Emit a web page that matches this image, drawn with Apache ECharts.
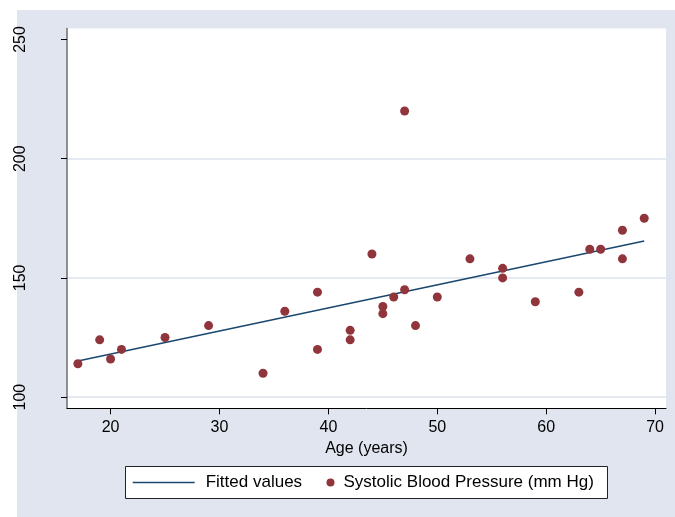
<!DOCTYPE html>
<html lang="en">
<head>
    <meta charset="UTF-8">
    <title>Systolic Blood Pressure by Age</title>
    <style>
        body { margin: 0; overflow: hidden; background: #fff; }
        #chart { width: 675px; height: 517px; }
    </style>
</head>
<body>
    <div id="chart"></div>
    <script src="https://cdn.jsdelivr.net/npm/echarts@6/dist/echarts.min.js"></script>
    <script>
        // data
        var ages = [17, 19, 20, 21, 25, 29, 34, 36, 39, 39, 42, 42, 44, 45, 45,
                    46, 47, 47, 48, 50, 53, 56, 56, 59, 63, 64, 65, 67, 67, 69];
        var sbp = [114, 124, 116, 120, 125, 130, 110, 136, 144, 120, 128, 124, 160, 138, 135,
                   142, 145, 220, 130, 142, 158, 154, 150, 140, 144, 162, 162, 170, 158, 175];
        // fitted line end points
        var fitted = [[17, 115.1], [69, 165.5]];
        var xTicks = [20, 30, 40, 50, 60, 70];
        var yTicks = [100, 150, 200, 250];
        var seriesNames = ['Fitted values', 'Systolic Blood Pressure (mm Hg)'];

        var font = '"Liberation Sans", Arial, sans-serif';
        var points = ages.map(function (a, i) { return [a, sbp[i]]; });

        var myChart = echarts.init(document.getElementById('chart'));
        var option = {
            backgroundColor: '#fff',
            animation: false,
            graphic: [
                {
                    type: 'rect', z: -10,
                    shape: { x: 17, y: 10, width: 658, height: 507 },
                    style: { fill: '#e0e5ef' }
                },
                {
                    type: 'rect', z: 0,
                    shape: { x: 125.5, y: 466.5, width: 482, height: 32 },
                    style: { fill: '#fff', stroke: '#222', lineWidth: 1 }
                }
            ],
            grid: {
                left: 67, right: 9, top: 28.5, bottom: 108.7,
                show: true, backgroundColor: '#fff', borderWidth: 0
            },
            legend: [
                {
                    data: [{ name: seriesNames[0], icon: 'rect' }],
                    left: 132.7, top: 474, padding: 0,
                    itemWidth: 62, itemHeight: 1.6,
                    textStyle: { fontFamily: font, fontSize: 17, color: '#000', padding: [0, 0, 0, 6] },
                    z: 5
                },
                {
                    data: [{ name: seriesNames[1], icon: 'circle' }],
                    left: 326.5, top: 474, padding: 0,
                    itemWidth: 8, itemHeight: 8,
                    textStyle: { fontFamily: font, fontSize: 17, color: '#000', padding: [0, 0, 0, 4] },
                    z: 5
                }
            ],
            xAxis: {
                type: 'value',
                min: 16, max: 71,
                name: 'Age (years)',
                nameLocation: 'middle',
                nameGap: 28,
                nameTextStyle: { fontFamily: font, fontSize: 16, color: '#000' },
                axisLine: { lineStyle: { color: '#000', width: 1 } },
                axisTick: { show: true, length: 6, customValues: xTicks, lineStyle: { color: '#000' } },
                axisLabel: { customValues: xTicks, margin: 11, fontFamily: font, fontSize: 16, color: '#000' },
                splitLine: { show: false }
            },
            yAxis: {
                type: 'value',
                min: 95.3, max: 254.6,
                axisLine: { show: true, lineStyle: { color: '#6e6e6e', width: 1.5 } },
                axisTick: { show: true, length: 6, customValues: yTicks, lineStyle: { color: '#000' } },
                axisLabel: {
                    customValues: yTicks, rotate: 90, margin: 38,
                    fontFamily: font, fontSize: 16, color: '#000'
                },
                splitLine: {
                    show: true,
                    lineStyle: { color: ['#dde3ee', '#dde3ee', '#dde3ee', '#ffffff'], width: 1.5 }
                }
            },
            series: [
                {
                    name: seriesNames[0],
                    type: 'line',
                    data: fitted,
                    symbol: 'none',
                    z: 2,
                    lineStyle: { color: '#1a476f', width: 1.5 },
                    itemStyle: { color: '#1a476f' }
                },
                {
                    name: seriesNames[1],
                    type: 'scatter',
                    data: points,
                    symbolSize: 9,
                    z: 3,
                    itemStyle: { color: '#90353b', opacity: 1 }
                }
            ]
        };
        myChart.setOption(option);
    </script>
</body>
</html>
